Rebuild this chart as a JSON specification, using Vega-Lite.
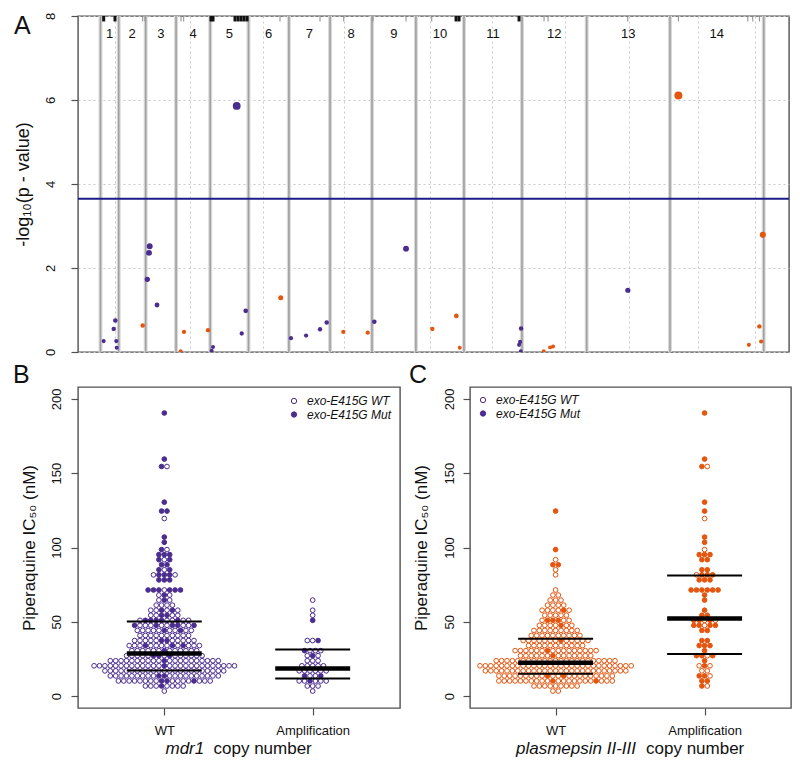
{
"$schema": "https://vega.github.io/schema/vega-lite/v6.json",
"padding": {"left": 12, "top": 11, "right": 4, "bottom": 4},
"config": {
 "font": "Liberation Sans",
 "view": {"stroke": "#505050", "strokeWidth": 1.4},
 "axis": {"labelFontSize": 13, "labelColor": "#111", "titleColor": "#111", "titleFontWeight": "normal", "tickColor": "#505050", "tickSize": 7, "tickWidth": 1.2, "domain": false, "grid": false, "labelFont": "Liberation Sans", "titleFont": "Liberation Sans"},
 "axisY": {"labelAngle": 270, "labelAlign": "center", "labelBaseline": "middle", "labelFlush": false, "titleAngle": 270, "titleAlign": "center", "titleBaseline": "middle"},
 "title": {"fontSize": 25, "fontWeight": "normal", "anchor": "start", "frame": "bounds", "color": "#111", "baseline": "alphabetic", "offset": 0},
 "legend": {"title": null, "padding": 0, "labelFontStyle": "italic", "labelFontSize": 12, "labelOffset": 7, "rowPadding": 1.5, "symbolType": "circle", "symbolSize": 28, "symbolStrokeWidth": 1, "labelColor": "#111"}
},
"datasets": {
 "chrom": [
  {"chr":"1","start":0,"end":0.640,"mid":0.32},
  {"chr":"2","start":0.640,"end":1.587,"mid":1.114},
  {"chr":"3","start":1.587,"end":2.654,"mid":2.12},
  {"chr":"4","start":2.654,"end":3.854,"mid":3.254},
  {"chr":"5","start":3.854,"end":5.198,"mid":4.526},
  {"chr":"6","start":5.198,"end":6.616,"mid":5.907},
  {"chr":"7","start":6.616,"end":8.062,"mid":7.339},
  {"chr":"8","start":8.062,"end":9.535,"mid":8.798},
  {"chr":"9","start":9.535,"end":11.077,"mid":10.306},
  {"chr":"10","start":11.077,"end":12.765,"mid":11.921},
  {"chr":"11","start":12.765,"end":14.803,"mid":13.784},
  {"chr":"12","start":14.803,"end":17.075,"mid":15.939},
  {"chr":"13","start":17.075,"end":20.0,"mid":18.538},
  {"chr":"14","start":20.0,"end":23.292,"mid":21.646}
 ],
 "mk": [
  {"pos":0.112,"k":"b"},{"pos":0.509,"k":"b"},{"pos":1.482,"k":"g"},{"pos":1.563,"k":"g"},{"pos":2.828,"k":"g"},{"pos":2.922,"k":"g"},{"pos":3.881,"k":"b"},{"pos":3.952,"k":"b"},{"pos":4.724,"k":"b"},{"pos":4.83,"k":"b"},{"pos":4.935,"k":"b"},{"pos":5.04,"k":"b"},{"pos":5.146,"k":"b"},{"pos":6.305,"k":"g"},{"pos":7.71,"k":"g"},{"pos":8.542,"k":"g"},{"pos":9.571,"k":"g"},{"pos":10.73,"k":"g"},{"pos":11.633,"k":"g"},{"pos":12.487,"k":"b"},{"pos":12.592,"k":"b"},{"pos":14.699,"k":"b"},{"pos":15.577,"k":"g"},{"pos":15.718,"k":"g"},{"pos":18.518,"k":"g"},{"pos":20.295,"k":"g"},{"pos":22.733,"k":"g"},{"pos":22.908,"k":"g"},{"pos":23.14,"k":"g"}
 ],
 "assoc": [
  {"pos":0.112,"p":0.26,"t":"mdr1"},{"pos":0.464,"p":0.55,"t":"mdr1"},{"pos":0.52,"p":0.75,"t":"mdr1"},{"pos":0.555,"p":0.26,"t":"mdr1"},{"pos":0.569,"p":0.1,"t":"mdr1"},
  {"pos":1.482,"p":0.63,"t":"pm"},{"pos":1.728,"p":2.52,"t":"mdr1"},{"pos":1.704,"p":2.36,"t":"mdr1"},{"pos":1.644,"p":1.73,"t":"mdr1"},{"pos":1.985,"p":1.12,"t":"mdr1"},
  {"pos":2.933,"p":0.48,"t":"pm"},{"pos":2.817,"p":0.02,"t":"pm"},{"pos":3.776,"p":0.52,"t":"pm"},{"pos":3.952,"p":0.12,"t":"mdr1"},{"pos":3.906,"p":0.03,"t":"mdr1"},
  {"pos":4.784,"p":5.86,"t":"mdr1"},{"pos":4.96,"p":0.44,"t":"mdr1"},{"pos":5.10,"p":0.98,"t":"mdr1"},{"pos":6.33,"p":1.29,"t":"pm"},{"pos":6.69,"p":0.33,"t":"mdr1"},
  {"pos":7.22,"p":0.39,"t":"mdr1"},{"pos":7.71,"p":0.54,"t":"mdr1"},{"pos":7.945,"p":0.7,"t":"mdr1"},{"pos":8.528,"p":0.48,"t":"pm"},{"pos":9.385,"p":0.46,"t":"pm"},
  {"pos":9.617,"p":0.72,"t":"mdr1"},{"pos":10.73,"p":2.46,"t":"mdr1"},{"pos":11.654,"p":0.55,"t":"pm"},{"pos":12.497,"p":0.86,"t":"pm"},{"pos":12.617,"p":0.1,"t":"pm"},
  {"pos":14.77,"p":0.56,"t":"mdr1"},{"pos":14.735,"p":0.24,"t":"mdr1"},{"pos":14.70,"p":0.17,"t":"mdr1"},{"pos":14.76,"p":0.02,"t":"mdr1"},{"pos":15.567,"p":0.02,"t":"pm"},
  {"pos":15.789,"p":0.11,"t":"pm"},{"pos":15.894,"p":0.13,"t":"pm"},{"pos":18.52,"p":1.47,"t":"mdr1"},{"pos":20.295,"p":6.11,"t":"pm"},{"pos":22.77,"p":0.17,"t":"pm"},
  {"pos":23.14,"p":0.61,"t":"pm"},{"pos":23.2,"p":0.25,"t":"pm"},{"pos":23.26,"p":2.79,"t":"pm"}
 ],
 "stats": [
  {"p":"B","g":"WT","s":"quartile","v":17.3},{"p":"B","g":"WT","s":"median","v":28.7},{"p":"B","g":"WT","s":"quartile","v":50.2},
  {"p":"B","g":"Amp","s":"quartile","v":11.9},{"p":"B","g":"Amp","s":"median","v":18.6},{"p":"B","g":"Amp","s":"quartile","v":31.4},
  {"p":"C","g":"WT","s":"quartile","v":15.0},{"p":"C","g":"WT","s":"median","v":22.4},{"p":"C","g":"WT","s":"quartile","v":38.6},
  {"p":"C","g":"Amp","s":"quartile","v":28.3},{"p":"C","g":"Amp","s":"median","v":52.3},{"p":"C","g":"Amp","s":"quartile","v":81.2}
 ],
 "iso": [
  {"v":3.4,"e":"WT","c":"N"},{"v":3.4,"e":"WT","c":"M"},
  {"v":6.8,"e":"WT","c":"N"},{"v":6.8,"e":"WT","c":"N"},{"v":6.8,"e":"WT","c":"N"},{"v":6.8,"e":"WT","c":"M"},{"v":6.8,"e":"Mut","c":"P"},{"v":6.8,"e":"WT","c":"M"},{"v":6.8,"e":"WT","c":"P"},{"v":6.8,"e":"WT","c":"M"},{"v":6.8,"e":"WT","c":"N"},{"v":6.8,"e":"WT","c":"N"},{"v":6.8,"e":"WT","c":"N"},
  {"v":10.2,"e":"WT","c":"N"},{"v":10.2,"e":"WT","c":"N"},{"v":10.2,"e":"WT","c":"N"},{"v":10.2,"e":"WT","c":"N"},{"v":10.2,"e":"WT","c":"N"},{"v":10.2,"e":"WT","c":"N"},{"v":10.2,"e":"WT","c":"N"},{"v":10.2,"e":"WT","c":"N"},{"v":10.2,"e":"WT","c":"M"},{"v":10.2,"e":"Mut","c":"P"},{"v":10.2,"e":"WT","c":"M"},{"v":10.2,"e":"Mut","c":"M"},{"v":10.2,"e":"Mut","c":"P"},{"v":10.2,"e":"WT","c":"M"},{"v":10.2,"e":"WT","c":"M"},{"v":10.2,"e":"WT","c":"M"},{"v":10.2,"e":"WT","c":"N"},{"v":10.2,"e":"WT","c":"N"},{"v":10.2,"e":"WT","c":"N"},{"v":10.2,"e":"WT","c":"N"},{"v":10.2,"e":"Mut","c":"N"},{"v":10.2,"e":"WT","c":"N"},{"v":10.2,"e":"WT","c":"N"},{"v":10.2,"e":"WT","c":"N"},
  {"v":13.6,"e":"WT","c":"N"},{"v":13.6,"e":"WT","c":"N"},{"v":13.6,"e":"WT","c":"N"},{"v":13.6,"e":"WT","c":"N"},{"v":13.6,"e":"WT","c":"N"},{"v":13.6,"e":"WT","c":"N"},{"v":13.6,"e":"WT","c":"N"},{"v":13.6,"e":"WT","c":"N"},{"v":13.6,"e":"WT","c":"N"},{"v":13.6,"e":"Mut","c":"M"},{"v":13.6,"e":"Mut","c":"P"},{"v":13.6,"e":"WT","c":"M"},{"v":13.6,"e":"Mut","c":"P"},{"v":13.6,"e":"WT","c":"M"},{"v":13.6,"e":"WT","c":"P"},{"v":13.6,"e":"Mut","c":"M"},{"v":13.6,"e":"WT","c":"N"},{"v":13.6,"e":"WT","c":"N"},{"v":13.6,"e":"WT","c":"N"},{"v":13.6,"e":"WT","c":"N"},{"v":13.6,"e":"WT","c":"N"},{"v":13.6,"e":"WT","c":"N"},{"v":13.6,"e":"WT","c":"N"},{"v":13.6,"e":"WT","c":"N"},{"v":13.6,"e":"WT","c":"N"},
  {"v":17,"e":"WT","c":"N"},{"v":17,"e":"WT","c":"N"},{"v":17,"e":"WT","c":"N"},{"v":17,"e":"WT","c":"N"},{"v":17,"e":"WT","c":"N"},{"v":17,"e":"WT","c":"N"},{"v":17,"e":"WT","c":"N"},{"v":17,"e":"WT","c":"N"},{"v":17,"e":"WT","c":"N"},{"v":17,"e":"WT","c":"N"},{"v":17,"e":"WT","c":"M"},{"v":17,"e":"WT","c":"M"},{"v":17,"e":"WT","c":"P"},{"v":17,"e":"WT","c":"M"},{"v":17,"e":"WT","c":"M"},{"v":17,"e":"WT","c":"P"},{"v":17,"e":"WT","c":"M"},{"v":17,"e":"WT","c":"M"},{"v":17,"e":"WT","c":"N"},{"v":17,"e":"WT","c":"N"},{"v":17,"e":"WT","c":"N"},{"v":17,"e":"WT","c":"N"},{"v":17,"e":"WT","c":"N"},{"v":17,"e":"WT","c":"N"},{"v":17,"e":"WT","c":"N"},{"v":17,"e":"WT","c":"N"},{"v":17,"e":"WT","c":"N"},{"v":17,"e":"WT","c":"N"},{"v":17,"e":"WT","c":"N"},
  {"v":20.4,"e":"WT","c":"N"},{"v":20.4,"e":"WT","c":"N"},{"v":20.4,"e":"WT","c":"N"},{"v":20.4,"e":"WT","c":"N"},{"v":20.4,"e":"WT","c":"N"},{"v":20.4,"e":"WT","c":"N"},{"v":20.4,"e":"WT","c":"N"},{"v":20.4,"e":"WT","c":"N"},{"v":20.4,"e":"WT","c":"N"},{"v":20.4,"e":"WT","c":"N"},{"v":20.4,"e":"WT","c":"N"},{"v":20.4,"e":"WT","c":"N"},{"v":20.4,"e":"WT","c":"M"},{"v":20.4,"e":"WT","c":"P"},{"v":20.4,"e":"WT","c":"M"},{"v":20.4,"e":"Mut","c":"P"},{"v":20.4,"e":"WT","c":"M"},{"v":20.4,"e":"WT","c":"P"},{"v":20.4,"e":"WT","c":"M"},{"v":20.4,"e":"WT","c":"M"},{"v":20.4,"e":"WT","c":"N"},{"v":20.4,"e":"WT","c":"N"},{"v":20.4,"e":"WT","c":"N"},{"v":20.4,"e":"WT","c":"N"},{"v":20.4,"e":"WT","c":"N"},{"v":20.4,"e":"WT","c":"N"},{"v":20.4,"e":"WT","c":"N"},{"v":20.4,"e":"WT","c":"N"},{"v":20.4,"e":"WT","c":"N"},{"v":20.4,"e":"WT","c":"N"},{"v":20.4,"e":"WT","c":"N"},{"v":20.4,"e":"WT","c":"N"},
  {"v":23.8,"e":"WT","c":"N"},{"v":23.8,"e":"WT","c":"N"},{"v":23.8,"e":"WT","c":"N"},{"v":23.8,"e":"WT","c":"N"},{"v":23.8,"e":"WT","c":"N"},{"v":23.8,"e":"WT","c":"N"},{"v":23.8,"e":"WT","c":"N"},{"v":23.8,"e":"WT","c":"N"},{"v":23.8,"e":"WT","c":"N"},{"v":23.8,"e":"WT","c":"N"},{"v":23.8,"e":"WT","c":"M"},{"v":23.8,"e":"Mut","c":"P"},{"v":23.8,"e":"WT","c":"M"},{"v":23.8,"e":"WT","c":"M"},{"v":23.8,"e":"WT","c":"N"},{"v":23.8,"e":"WT","c":"N"},{"v":23.8,"e":"WT","c":"N"},{"v":23.8,"e":"WT","c":"N"},{"v":23.8,"e":"WT","c":"N"},{"v":23.8,"e":"WT","c":"N"},{"v":23.8,"e":"WT","c":"N"},{"v":23.8,"e":"WT","c":"N"},{"v":23.8,"e":"WT","c":"N"},{"v":23.8,"e":"WT","c":"N"},
  {"v":27.2,"e":"WT","c":"N"},{"v":27.2,"e":"WT","c":"N"},{"v":27.2,"e":"WT","c":"N"},{"v":27.2,"e":"WT","c":"N"},{"v":27.2,"e":"WT","c":"N"},{"v":27.2,"e":"WT","c":"M"},{"v":27.2,"e":"Mut","c":"P"},{"v":27.2,"e":"Mut","c":"M"},{"v":27.2,"e":"Mut","c":"P"},{"v":27.2,"e":"WT","c":"M"},{"v":27.2,"e":"WT","c":"P"},{"v":27.2,"e":"Mut","c":"P"},{"v":27.2,"e":"WT","c":"N"},{"v":27.2,"e":"WT","c":"N"},{"v":27.2,"e":"WT","c":"N"},{"v":27.2,"e":"WT","c":"N"},{"v":27.2,"e":"WT","c":"N"},{"v":27.2,"e":"WT","c":"N"},
  {"v":30.6,"e":"WT","c":"N"},{"v":30.6,"e":"WT","c":"N"},{"v":30.6,"e":"WT","c":"N"},{"v":30.6,"e":"WT","c":"N"},{"v":30.6,"e":"WT","c":"N"},{"v":30.6,"e":"WT","c":"N"},{"v":30.6,"e":"Mut","c":"M"},{"v":30.6,"e":"WT","c":"M"},{"v":30.6,"e":"Mut","c":"P"},{"v":30.6,"e":"WT","c":"M"},{"v":30.6,"e":"WT","c":"M"},{"v":30.6,"e":"WT","c":"N"},{"v":30.6,"e":"WT","c":"N"},{"v":30.6,"e":"WT","c":"N"},{"v":30.6,"e":"WT","c":"N"},{"v":30.6,"e":"WT","c":"N"},{"v":30.6,"e":"WT","c":"N"},
  {"v":34,"e":"WT","c":"N"},{"v":34,"e":"WT","c":"N"},{"v":34,"e":"WT","c":"N"},{"v":34,"e":"Mut","c":"P"},{"v":34,"e":"WT","c":"N"},{"v":34,"e":"WT","c":"N"},{"v":34,"e":"WT","c":"N"},{"v":34,"e":"WT","c":"N"},{"v":34,"e":"Mut","c":"P"},{"v":34,"e":"WT","c":"N"},{"v":34,"e":"Mut","c":"P"},{"v":34,"e":"WT","c":"N"},{"v":34,"e":"WT","c":"N"},{"v":34,"e":"WT","c":"N"},
  {"v":37.4,"e":"WT","c":"N"},{"v":37.4,"e":"WT","c":"N"},{"v":37.4,"e":"WT","c":"N"},{"v":37.4,"e":"WT","c":"N"},{"v":37.4,"e":"WT","c":"N"},{"v":37.4,"e":"WT","c":"M"},{"v":37.4,"e":"Mut","c":"P"},{"v":37.4,"e":"WT","c":"M"},{"v":37.4,"e":"Mut","c":"P"},{"v":37.4,"e":"Mut","c":"M"},{"v":37.4,"e":"WT","c":"N"},{"v":37.4,"e":"WT","c":"N"},{"v":37.4,"e":"WT","c":"N"},{"v":37.4,"e":"WT","c":"N"},{"v":37.4,"e":"WT","c":"N"},
  {"v":40.8,"e":"WT","c":"N"},{"v":40.8,"e":"WT","c":"N"},{"v":40.8,"e":"WT","c":"N"},{"v":40.8,"e":"WT","c":"N"},{"v":40.8,"e":"WT","c":"N"},{"v":40.8,"e":"WT","c":"N"},{"v":40.8,"e":"WT","c":"N"},{"v":40.8,"e":"WT","c":"N"},{"v":40.8,"e":"WT","c":"N"},{"v":40.8,"e":"WT","c":"N"},
  {"v":44.2,"e":"WT","c":"N"},{"v":44.2,"e":"WT","c":"N"},{"v":44.2,"e":"WT","c":"N"},{"v":44.2,"e":"WT","c":"N"},{"v":44.2,"e":"WT","c":"N"},{"v":44.2,"e":"Mut","c":"P"},{"v":44.2,"e":"WT","c":"N"},{"v":44.2,"e":"WT","c":"N"},{"v":44.2,"e":"Mut","c":"P"},{"v":44.2,"e":"WT","c":"N"},{"v":44.2,"e":"WT","c":"N"},
  {"v":47.6,"e":"Mut","c":"P"},{"v":47.6,"e":"WT","c":"N"},{"v":47.6,"e":"WT","c":"N"},{"v":47.6,"e":"WT","c":"N"},{"v":47.6,"e":"Mut","c":"P"},{"v":47.6,"e":"WT","c":"N"},{"v":47.6,"e":"WT","c":"P"},{"v":47.6,"e":"Mut","c":"N"},{"v":47.6,"e":"Mut","c":"P"},{"v":47.6,"e":"WT","c":"N"},{"v":47.6,"e":"WT","c":"N"},{"v":47.6,"e":"Mut","c":"P"},
  {"v":51,"e":"WT","c":"N"},{"v":51,"e":"Mut","c":"N"},{"v":51,"e":"Mut","c":"P"},{"v":51,"e":"Mut","c":"M"},{"v":51,"e":"Mut","c":"P"},{"v":51,"e":"Mut","c":"N"},{"v":51,"e":"WT","c":"P"},{"v":51,"e":"WT","c":"N"},{"v":51,"e":"Mut","c":"P"},{"v":51,"e":"WT","c":"P"},{"v":51,"e":"WT","c":"N"},
  {"v":54.4,"e":"WT","c":"N"},{"v":54.4,"e":"WT","c":"N"},{"v":54.4,"e":"Mut","c":"P"},{"v":54.4,"e":"WT","c":"M"},{"v":54.4,"e":"Mut","c":"P"},{"v":54.4,"e":"WT","c":"N"},{"v":54.4,"e":"WT","c":"N"},
  {"v":57.8,"e":"WT","c":"N"},{"v":57.8,"e":"WT","c":"N"},{"v":57.8,"e":"Mut","c":"P"},{"v":57.8,"e":"WT","c":"M"},{"v":57.8,"e":"WT","c":"N"},{"v":57.8,"e":"Mut","c":"N"},{"v":57.8,"e":"WT","c":"N"},
  {"v":61.2,"e":"WT","c":"N"},{"v":61.2,"e":"WT","c":"N"},{"v":61.2,"e":"WT","c":"N"},{"v":61.2,"e":"WT","c":"N"},
  {"v":64.6,"e":"WT","c":"N"},{"v":64.6,"e":"Mut","c":"P"},{"v":64.6,"e":"WT","c":"M"},{"v":64.6,"e":"WT","c":"N"},
  {"v":68,"e":"WT","c":"N"},{"v":68,"e":"Mut","c":"P"},{"v":68,"e":"WT","c":"N"},
  {"v":71.4,"e":"Mut","c":"P"},{"v":71.4,"e":"Mut","c":"P"},{"v":71.4,"e":"Mut","c":"P"},{"v":71.4,"e":"WT","c":"N"},{"v":71.4,"e":"Mut","c":"P"},{"v":71.4,"e":"Mut","c":"P"},{"v":71.4,"e":"Mut","c":"P"},
  {"v":78.2,"e":"Mut","c":"P"},{"v":78.2,"e":"Mut","c":"P"},{"v":78.2,"e":"Mut","c":"P"},
  {"v":81.6,"e":"WT","c":"P"},{"v":81.6,"e":"Mut","c":"P"},{"v":81.6,"e":"Mut","c":"P"},{"v":81.6,"e":"Mut","c":"P"},{"v":81.6,"e":"WT","c":"N"},
  {"v":85,"e":"Mut","c":"P"},{"v":85,"e":"WT","c":"N"},{"v":85,"e":"Mut","c":"P"},
  {"v":88.4,"e":"Mut","c":"N"},{"v":88.4,"e":"Mut","c":"N"},
  {"v":91.8,"e":"Mut","c":"P"},{"v":91.8,"e":"WT","c":"N"},{"v":91.8,"e":"Mut","c":"P"},
  {"v":95.2,"e":"Mut","c":"P"},{"v":95.2,"e":"Mut","c":"P"},{"v":95.2,"e":"Mut","c":"P"},
  {"v":98.6,"e":"Mut","c":"N"},{"v":98.6,"e":"WT","c":"P"},
  {"v":103.5,"e":"Mut","c":"P"},{"v":107,"e":"Mut","c":"P"},{"v":119.5,"e":"WT","c":"P"},
  {"v":124.5,"e":"Mut","c":"N"},{"v":124.5,"e":"Mut","c":"P"},{"v":130.5,"e":"Mut","c":"P"},
  {"v":154.5,"e":"Mut","c":"P"},{"v":154.5,"e":"WT","c":"P"},{"v":159.5,"e":"Mut","c":"P"},{"v":190.5,"e":"Mut","c":"P"}
 ]
},
"spacing": 35,
"bounds": "flush",
"resolve": {"scale": {"fill": "independent", "size": "independent", "color": "independent"}, "legend": {"fill": "independent"}},
"vconcat": [
 {
  "width": 711, "height": 336,
  "title": {"text": "A", "dy": 31},
  "layer": [
   {"data": {"name": "chrom"}, "mark": {"type": "rule", "color": "#dadada", "strokeWidth": 4},
    "encoding": {"x": {"field": "start", "type": "quantitative", "scale": {"domain": [-0.79, 24.18], "nice": false, "zero": false},
      "axis": {"values": [0.5,1.14,2.087,2.587,3.154,3.654,4.354,4.854,5.698,6.198,7.116,7.616,8.562,9.062,10.035,10.535,11.577,12.077,12.577,13.265,13.765,14.265,15.303,15.803,16.303,16.803,17.575,18.075,18.575,19.075,19.575,20.5,21.0,21.5,22.0,22.5,23.0], "grid": true, "gridColor": "#c9c9c9", "gridDash": [2,3], "gridWidth": 1, "labels": false, "ticks": false, "domain": false, "title": null}}}},
   {"data": {"name": "chrom"}, "transform": [{"filter": "datum.chr == '14'"}], "mark": {"type": "rule", "color": "#dadada", "strokeWidth": 4},
    "encoding": {"x": {"field": "end", "type": "quantitative", "scale": {"domain": [-0.79, 24.18], "nice": false, "zero": false}}}},
   {"data": {"name": "chrom"}, "mark": {"type": "rule", "color": "#a0a0a0", "strokeWidth": 1.6},
    "encoding": {"x": {"field": "start", "type": "quantitative", "scale": {"domain": [-0.79, 24.18], "nice": false, "zero": false}}}},
   {"data": {"name": "chrom"}, "transform": [{"filter": "datum.chr == '14'"}], "mark": {"type": "rule", "color": "#a0a0a0", "strokeWidth": 1.6},
    "encoding": {"x": {"field": "end", "type": "quantitative", "scale": {"domain": [-0.79, 24.18], "nice": false, "zero": false}}}},
   {"data": {"name": "chrom"}, "mark": {"type": "text", "fontSize": 13, "color": "#111", "baseline": "middle"},
    "encoding": {"x": {"field": "mid", "type": "quantitative", "scale": {"domain": [-0.79, 24.18], "nice": false, "zero": false}},
      "y": {"datum": 7.57, "type": "quantitative", "scale": {"domain": [0, 8], "nice": false, "zero": false}},
      "text": {"field": "chr"}}},
   {"data": {"name": "mk"}, "transform": [{"filter": "datum.k == 'g'"}], "mark": {"type": "rule", "color": "#8a8a8a", "strokeWidth": 1},
    "encoding": {"x": {"field": "pos", "type": "quantitative", "scale": {"domain": [-0.79, 24.18], "nice": false, "zero": false}},
      "y": {"datum": 8, "type": "quantitative", "scale": {"domain": [0, 8], "nice": false, "zero": false}}, "y2": {"datum": 7.87}}},
   {"data": {"name": "mk"}, "transform": [{"filter": "datum.k == 'b'"}], "mark": {"type": "rule", "color": "#111", "strokeWidth": 3},
    "encoding": {"x": {"field": "pos", "type": "quantitative", "scale": {"domain": [-0.79, 24.18], "nice": false, "zero": false}},
      "y": {"datum": 8, "type": "quantitative", "scale": {"domain": [0, 8], "nice": false, "zero": false}}, "y2": {"datum": 7.87}}},
   {"data": {"values": [{"thr": 3.65}]}, "mark": {"type": "rule", "color": "#1c1c87", "strokeWidth": 2},
    "encoding": {"y": {"field": "thr", "type": "quantitative", "scale": {"domain": [0, 8], "nice": false, "zero": false}}}},
   {"data": {"name": "assoc"}, "mark": {"type": "circle", "opacity": 1, "clip": true},
    "encoding": {"x": {"field": "pos", "type": "quantitative", "scale": {"domain": [-0.79, 24.18], "nice": false, "zero": false}},
      "y": {"field": "p", "type": "quantitative", "scale": {"domain": [0, 8], "nice": false, "zero": false},
        "axis": {"values": [0,2,4,6,8], "grid": true, "gridColor": "#c9c9c9", "gridDash": [2,3], "title": "-log₁₀(p - value)", "titleFontSize": 18, "titleX": -55, "titleY": 168, "labelPadding": 21}},
      "color": {"field": "t", "type": "nominal", "scale": {"domain": ["mdr1","pm"], "range": ["#4b2c8f","#e4550e"]}, "legend": null},
      "size": {"field": "p", "type": "quantitative", "scale": {"domain": [0, 6], "range": [15, 63], "zero": false}, "legend": null}}}
  ]
 },
 {
  "resolve": {"scale": {"fill": "independent", "size": "independent", "color": "independent"}, "legend": {"fill": "independent"}},
  "hconcat": [
   {
    "width": 322, "height": 321,
    "title": {"text": "B", "dx": -7, "dy": 5},
    "resolve": {"scale": {"x": "independent"}, "axis": {"x": "independent"}},
    "layer": [
     {"layer": [
      {"data": {"name": "iso"}, "transform": [{"filter": "datum.c != 'M'"}, {"window": [{"op": "row_number", "as": "id"}]}],
       "mark": {"type": "point", "shape": "circle", "filled": true, "size": 22, "stroke": "#4b2c8f", "strokeWidth": 1, "opacity": 1},
       "encoding": {
        "x": {"aggregate": "count", "type": "quantitative", "stack": "center", "scale": {"domain": [-1.98, 57.65], "nice": false, "zero": false},
          "axis": {"orient": "bottom", "values": [14, 41.48], "labelExpr": "datum.value < 30 ? 'WT' : 'Amplification'", "labelBaseline": "middle", "labelPadding": 15, "labelFlush": false, "title": "mdr1", "titleFontStyle": "italic", "titleFontSize": 17, "titleX": 87, "titleY": 40, "titleAlign": "left", "titleBaseline": "middle"}},
        "y": {"field": "v", "type": "quantitative", "scale": {"domain": [-8, 208], "nice": false, "zero": false},
          "axis": {"values": [0,50,100,150,200], "title": "Piperaquine IC₅₀ (nM)", "titleFontSize": 17, "titleX": -49, "titleY": 160.5, "labelPadding": 15}},
        "fill": {"field": "e", "type": "nominal", "scale": {"domain": ["WT","Mut"], "range": ["transparent","#4b2c8f"]},
          "legend": {"orient": "top-right", "offset": 8, "labelExpr": "'exo-E415G ' + datum.label"}},
        "detail": {"field": "id", "type": "quantitative"},
        "order": {"field": "id", "type": "quantitative"}
       }},
      {"data": {"name": "stats"}, "transform": [{"filter": "datum.p == 'B' && datum.g == 'WT'"}],
       "mark": {"type": "rule", "color": "#000"},
       "encoding": {
        "x": {"datum": 7.06, "type": "quantitative", "scale": {"domain": [-1.98, 57.65], "nice": false, "zero": false}},
        "x2": {"datum": 20.94},
        "y": {"field": "v", "type": "quantitative", "scale": {"domain": [-8, 208], "nice": false, "zero": false}},
        "size": {"field": "s", "type": "ordinal", "scale": {"domain": ["quartile","median"], "range": [2, 4.5]}, "legend": null}
       }}
     ]},
     {"layer": [
      {"data": {"name": "iso"}, "transform": [{"filter": "datum.c == 'M'"}, {"window": [{"op": "row_number", "as": "id"}]}],
       "mark": {"type": "point", "shape": "circle", "filled": true, "size": 22, "stroke": "#4b2c8f", "strokeWidth": 1, "opacity": 1},
       "encoding": {
        "x": {"aggregate": "count", "type": "quantitative", "stack": "center", "scale": {"domain": [-39.96, 19.67], "nice": false, "zero": false},
          "axis": {"orient": "bottom", "labels": false, "ticks": false, "domain": false, "grid": false, "title": "copy number", "titleFontSize": 17, "titleX": 135, "titleY": 40, "titleAlign": "left", "titleBaseline": "middle"}},
        "y": {"field": "v", "type": "quantitative", "scale": {"domain": [-8, 208], "nice": false, "zero": false},
          "axis": {"values": [0,50,100,150,200], "title": "Piperaquine IC₅₀ (nM)", "titleFontSize": 17, "titleX": -49, "titleY": 160.5, "labelPadding": 15}},
        "fill": {"field": "e", "type": "nominal", "scale": {"domain": ["WT","Mut"], "range": ["transparent","#4b2c8f"]},
          "legend": {"orient": "top-right", "offset": 8, "labelExpr": "'exo-E415G ' + datum.label"}},
        "detail": {"field": "id", "type": "quantitative"},
        "order": {"field": "id", "type": "quantitative"}
       }},
      {"data": {"name": "stats"}, "transform": [{"filter": "datum.p == 'B' && datum.g == 'Amp'"}],
       "mark": {"type": "rule", "color": "#000"},
       "encoding": {
        "x": {"datum": -3.44, "type": "quantitative", "scale": {"domain": [-39.96, 19.67], "nice": false, "zero": false}},
        "x2": {"datum": 10.44},
        "y": {"field": "v", "type": "quantitative", "scale": {"domain": [-8, 208], "nice": false, "zero": false}},
        "size": {"field": "s", "type": "ordinal", "scale": {"domain": ["quartile","median"], "range": [2, 4.5]}, "legend": null}
       }}
     ]}
    ]
   },
   {
    "width": 321, "height": 321,
    "title": {"text": "C", "dx": -3, "dy": 5},
    "resolve": {"scale": {"x": "independent", "fill": "independent"}, "axis": {"x": "independent"}},
    "layer": [
     {"layer": [
      {"data": {"name": "iso"}, "transform": [{"filter": "datum.c != 'P'"}, {"window": [{"op": "row_number", "as": "id"}]}],
       "mark": {"type": "point", "shape": "circle", "filled": true, "size": 22, "stroke": "#e4550e", "strokeWidth": 1, "opacity": 1},
       "encoding": {
        "x": {"aggregate": "count", "type": "quantitative", "stack": "center", "scale": {"domain": [-0.85, 58.59], "nice": false, "zero": false},
          "axis": {"orient": "bottom", "values": [15, 42.59], "labelExpr": "datum.value < 30 ? 'WT' : 'Amplification'", "labelBaseline": "middle", "labelPadding": 15, "labelFlush": false, "title": "plasmepsin II-III", "titleFontStyle": "italic", "titleFontSize": 17, "titleX": 45.5, "titleY": 40, "titleAlign": "left", "titleBaseline": "middle"}},
        "y": {"field": "v", "type": "quantitative", "scale": {"domain": [-8, 208], "nice": false, "zero": false},
          "axis": {"values": [0,50,100,150,200], "title": "Piperaquine IC₅₀ (nM)", "titleFontSize": 17, "titleX": -49, "titleY": 160.5, "labelPadding": 14}},
        "fill": {"field": "e", "type": "nominal", "scale": {"domain": ["WT","Mut"], "range": ["transparent","#e4550e"]}, "legend": null},
        "detail": {"field": "id", "type": "quantitative"},
        "order": {"field": "id", "type": "quantitative"}
       }},
      {"data": {"name": "stats"}, "transform": [{"filter": "datum.p == 'C' && datum.g == 'WT'"}],
       "mark": {"type": "rule", "color": "#000"},
       "encoding": {
        "x": {"datum": 8.06, "type": "quantitative", "scale": {"domain": [-0.85, 58.59], "nice": false, "zero": false}},
        "x2": {"datum": 21.94},
        "y": {"field": "v", "type": "quantitative", "scale": {"domain": [-8, 208], "nice": false, "zero": false}},
        "size": {"field": "s", "type": "ordinal", "scale": {"domain": ["quartile","median"], "range": [2, 4.5]}, "legend": null}
       }}
     ]},
     {"layer": [
      {"data": {"name": "iso"}, "transform": [{"filter": "datum.c == 'P'"}, {"window": [{"op": "row_number", "as": "id"}]}],
       "mark": {"type": "point", "shape": "circle", "filled": true, "size": 22, "stroke": "#e4550e", "strokeWidth": 1, "opacity": 1},
       "encoding": {
        "x": {"aggregate": "count", "type": "quantitative", "stack": "center", "scale": {"domain": [-39.94, 19.5], "nice": false, "zero": false},
          "axis": {"orient": "bottom", "labels": false, "ticks": false, "domain": false, "grid": false, "title": "copy number", "titleFontSize": 17, "titleX": 175.5, "titleY": 40, "titleAlign": "left", "titleBaseline": "middle"}},
        "y": {"field": "v", "type": "quantitative", "scale": {"domain": [-8, 208], "nice": false, "zero": false},
          "axis": {"values": [0,50,100,150,200], "title": "Piperaquine IC₅₀ (nM)", "titleFontSize": 17, "titleX": -49, "titleY": 160.5, "labelPadding": 14}},
        "fill": {"field": "e", "type": "nominal", "scale": {"domain": ["WT","Mut"], "range": ["transparent","#e4550e"]}, "legend": null},
        "detail": {"field": "id", "type": "quantitative"},
        "order": {"field": "id", "type": "quantitative"}
       }},
      {"data": {"name": "stats"}, "transform": [{"filter": "datum.p == 'C' && datum.g == 'Amp'"}],
       "mark": {"type": "rule", "color": "#000"},
       "encoding": {
        "x": {"datum": -3.44, "type": "quantitative", "scale": {"domain": [-39.94, 19.5], "nice": false, "zero": false}},
        "x2": {"datum": 10.44},
        "y": {"field": "v", "type": "quantitative", "scale": {"domain": [-8, 208], "nice": false, "zero": false}},
        "size": {"field": "s", "type": "ordinal", "scale": {"domain": ["quartile","median"], "range": [2, 4.5]}, "legend": null}
       }}
     ]},
     {"data": {"name": "iso"}, "transform": [{"filter": "datum.v > 1000"}],
      "mark": {"type": "point", "shape": "circle", "filled": true, "size": 22, "stroke": "#4b2c8f", "strokeWidth": 1, "opacity": 1},
      "encoding": {
       "fill": {"field": "e", "type": "nominal", "scale": {"domain": ["WT","Mut"], "range": ["transparent","#4b2c8f"]},
         "legend": {"orient": "top-left", "offset": 7, "labelExpr": "'exo-E415G ' + datum.label"}}
      }}
    ]
   }
  ],
  "spacing": 70,
  "bounds": "flush"
 }
]
}
